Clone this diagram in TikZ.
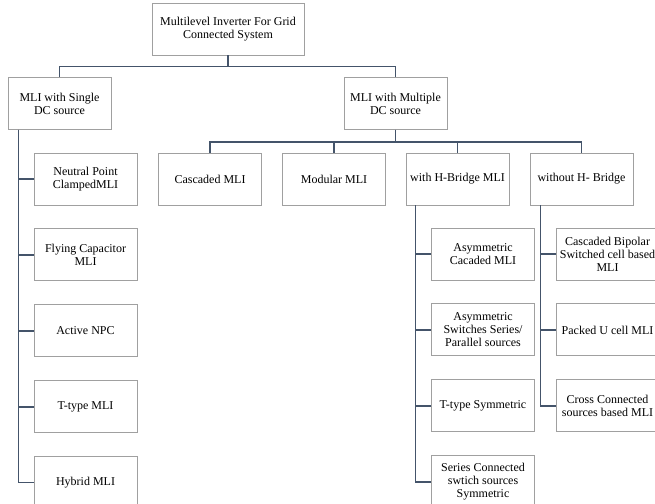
\documentclass[tikz,border=0pt]{standalone}
\usepackage{fontspec}
\setmainfont{Liberation Serif}
\usetikzlibrary{positioning}
\definecolor{linkblue}{HTML}{44546A}
\definecolor{boxgray}{HTML}{A0A0A0}

\begin{document}
\begin{tikzpicture}[
	x=1pt, y=-1pt,
	node distance=23pt,
	% --- Styles ---
	catbox/.style={
		rectangle, draw=boxgray, line width=0.9pt, fill=white,
		minimum width=103pt, minimum height=52pt, align=center,
		font=\fontsize{12}{13}\selectfont, inner sep=2pt
	},
	link/.style={
		draw=linkblue, line width=1.6pt
	}
	]
	
	% --- Frame ---
	\useasboundingbox (0,0) rectangle (655,503);
	\fill[white] (0,0) rectangle (655,503);
	\clip (0,0) rectangle (655,503);
	
	% --- 1. Root ---
	\node [catbox, minimum width=152pt] (root) at (228,29) {Multilevel Inverter For Grid\\Connected System};
	
	% --- 2. Source types ---
	\node [catbox] (single) at (59.5,103.5) {MLI with Single\\DC source};
	\node [catbox] (multi) at (395.5,103.5) {MLI with Multiple\\DC source};
	
	% --- 3. Multiple DC source branch ---
	\node [catbox] (cascaded) at (210,179) {Cascaded MLI};
	\node [catbox] (modular) at (334,179) {Modular MLI};
	\node [catbox] (hbridge) at (457.5,179) {with H-Bridge MLI};
	\node [catbox] (nohbridge) at (581.5,179) {without H- Bridge};
	
	% --- 4. Single DC source list ---
	\node [catbox] (npc) at (85.5,179) {Neutral Point\\ClampedMLI};
	\node [catbox, below=of npc] (flying) {Flying Capacitor\\MLI};
	\node [catbox, below=of flying] (anpc) {Active NPC};
	\node [catbox, below=of anpc] (ttype) {T-type MLI};
	\node [catbox, below=of ttype] (hybrid) {Hybrid MLI};
	
	% --- 5. With H-Bridge list ---
	\node [catbox] (asymcas) at (483,254) {Asymmetric\\Cacaded MLI};
	\node [catbox, below=of asymcas] (asymsw) {Asymmetric\\Switches Series/\\Parallel sources};
	\node [catbox, below=of asymsw] (tsym) {T-type Symmetric};
	\node [catbox, below=of tsym] (series) {Series Connected\\swtich sources\\Symmetric};
	
	% --- 6. Without H-Bridge list ---
	\node [catbox] (bipolar) at (607.5,254) {Cascaded Bipolar\\Switched cell based\\MLI};
	\node [catbox, below=of bipolar] (packed) {Packed U cell MLI};
	\node [catbox, below=of packed] (cross) {Cross Connected\\sources based MLI};
	
	% --- Connectors ---
	\draw [link] (root.south) -- ++(0,11) -| (single.north);
	\draw [link] (root.south) -- ++(0,11) -| (multi.north);
	
	\foreach \c in {cascaded, modular, hbridge, nohbridge}
	\draw [link] (multi.south) -- ++(0,12) -| (\c.north);
	
	% trunks hang from the left side of each parent
	\coordinate (strunk) at ([xshift=11pt]single.south west);
	\coordinate (htrunk) at ([xshift=10pt]hbridge.south west);
	\coordinate (ntrunk) at ([xshift=11pt]nohbridge.south west);
	
	\foreach \c in {npc, flying, anpc, ttype, hybrid}
	\draw [link] (strunk) |- (\c.west);
	\foreach \c in {asymcas, asymsw, tsym, series}
	\draw [link] (htrunk) |- (\c.west);
	\foreach \c in {bipolar, packed, cross}
	\draw [link] (ntrunk) |- (\c.west);
	
\end{tikzpicture}
\end{document}
